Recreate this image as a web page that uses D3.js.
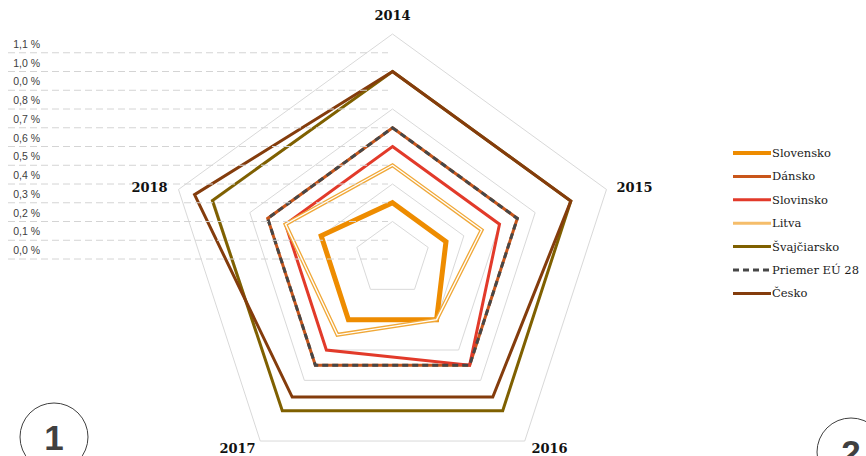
<!DOCTYPE html>
<html>
<head>
<meta charset="utf-8">
<script src="https://cdn.jsdelivr.net/npm/d3@7"></script>
<style>
  body { margin: 0; background: #fff; }
  svg { display: block; }
</style>
</head>
<body>
<div id="chart"></div>
<script>
// Axes (years) and series values in %
const years = ["2014", "2015", "2016", "2017", "2018"];
const slovensko = [0.3, 0.3, 0.4, 0.4, 0.4];
const dansko = [0.7, 0.7, 0.7, 0.7, 0.7];
const slovinsko = [0.6, 0.6, 0.7, 0.6, 0.6];
const litva = [0.5, 0.5, 0.4, 0.5, 0.6];
const svajciarsko = [1.0, 1.0, 1.0, 1.0, 1.01];
const priemerEU = [0.7, 0.7, 0.7, 0.7, 0.7];
const cesko = [1.0, 1.0, 0.91, 0.91, 1.11];

// Scale labels as printed on the left (top to bottom)
const tickLabels = ["1,1 %", "1,0 %", "0,0 %", "0,8 %", "0,7 %", "0,6 %", "0,5 %", "0,4 %", "0,3 %", "0,2 %", "0,1 %", "0,0 %"];
const tickValues = [1.1, 1.0, 0.9, 0.8, 0.7, 0.6, 0.5, 0.4, 0.3, 0.2, 0.1, 0.0];
const gridLevels = [0.2, 0.4, 0.6, 0.8, 1.0, 1.2];

const series = [
    { name: "Slovensko", values: slovensko, color: "#ee8c00", width: 5 },
    { name: "Dánsko", values: dansko, color: "#c9561a", width: 3 },
    { name: "Slovinsko", values: slovinsko, color: "#e23a2a", width: 3 },
    { name: "Litva", values: litva, color: "#f0a838", width: 4, double: true },
    { name: "Švajčiarsko", values: svajciarsko, color: "#7f6000", width: 3 },
    { name: "Priemer EÚ 28", values: priemerEU, color: "#474747", width: 3, dash: "6,4" },
    { name: "Česko", values: cesko, color: "#843c0c", width: 3 }
];

const W = 866, H = 456;
const cx = 392.5, cy = 259;

const svg = d3.select("#chart").append("svg")
    .attr("width", W)
    .attr("height", H);

const r = d3.scaleLinear().domain([0, 1.2]).range([0, 225]);
const angle = (d, i) => i * 2 * Math.PI / years.length;

const radar = d3.lineRadial()
    .angle(angle)
    .radius(d => r(d))
    .curve(d3.curveLinearClosed);

const g = svg.append("g").attr("transform", `translate(${cx},${cy})`);

// Pentagon grid
g.selectAll(".grid")
    .data(gridLevels)
    .enter().append("path")
    .attr("class", "grid")
    .attr("d", lv => radar(years.map(() => lv)))
    .attr("fill", "none")
    .attr("stroke", "#d9d9d9")
    .attr("stroke-width", 1);

// Series
series.forEach(s => {
    g.append("path")
        .attr("d", radar(s.values))
        .attr("fill", "none")
        .attr("stroke", s.color)
        .attr("stroke-width", s.width)
        .attr("stroke-linejoin", "miter")
        .attr("stroke-dasharray", s.dash || null);
    if (s.double) {
        g.append("path")
            .attr("d", radar(s.values))
            .attr("fill", "none")
            .attr("stroke", "#fff")
            .attr("stroke-width", 1.4);
    }
});

// Dashed scale lines with labels on the left
svg.selectAll(".tickline")
    .data(tickValues)
    .enter().append("line")
    .attr("class", "tickline")
    .attr("x1", 8)
    .attr("x2", 388)
    .attr("y1", v => cy - r(v))
    .attr("y2", v => cy - r(v))
    .attr("stroke", "#d4d4d4")
    .attr("stroke-width", 1)
    .attr("stroke-dasharray", "7,4");

svg.selectAll(".ticklabel")
    .data(tickLabels)
    .enter().append("text")
    .attr("class", "ticklabel")
    .attr("x", 40)
    .attr("y", (d, i) => cy - r(tickValues[i]) - 5)
    .attr("text-anchor", "end")
    .style("font-family", "'Liberation Sans', Arial, sans-serif")
    .style("font-size", "10.5px")
    .style("fill", "#404040")
    .text(d => d);

// Year labels
const labelPos = [
    { dx: 0, dy: -239 },
    { dx: 242, dy: -67 },
    { dx: 157, dy: 194 },
    { dx: -155, dy: 194 },
    { dx: -243, dy: -67 }
];
svg.selectAll(".year")
    .data(years)
    .enter().append("text")
    .attr("class", "year")
    .attr("x", (d, i) => cx + labelPos[i].dx)
    .attr("y", (d, i) => cy + labelPos[i].dy)
    .attr("text-anchor", "middle")
    .style("font-family", "'DejaVu Serif', Georgia, serif")
    .style("font-size", "13px")
    .style("font-weight", "bold")
    .style("fill", "#111")
    .text(d => d);

// Legend
const legend = svg.append("g").attr("transform", "translate(733,153)");
series.forEach((s, i) => {
    const row = legend.append("g").attr("transform", `translate(0,${i * 23.4})`);
    row.append("line")
        .attr("x1", 0).attr("x2", 38)
        .attr("stroke", s.double ? "#f5bd6a" : s.color)
        .attr("stroke-width", s.name === "Slovensko" ? 4 : 3)
        .attr("stroke-dasharray", s.dash || null);
    row.append("text")
        .attr("x", 39)
        .attr("y", 4)
        .style("font-family", "'DejaVu Serif', Georgia, serif")
        .style("font-size", "11.5px")
        .style("fill", "#1a1a1a")
        .text(s.name);
});

// Page number circles (the second one runs off the page edge, as in the original)
const badges = [
    { label: "1", x: 54, y: 437 },
    { label: "2", x: 851, y: 452 }
];
badges.forEach(b => {
    svg.append("circle")
        .attr("cx", b.x).attr("cy", b.y).attr("r", 34)
        .attr("fill", "none")
        .attr("stroke", "#404040")
        .attr("stroke-width", 1);
    svg.append("text")
        .attr("x", b.x)
        .attr("y", b.y + 13)
        .attr("text-anchor", "middle")
        .style("font-family", "'Liberation Sans', Arial, sans-serif")
        .style("font-size", "35px")
        .style("font-weight", "bold")
        .style("fill", "#404040")
        .text(b.label);
});
</script>
</body>
</html>
